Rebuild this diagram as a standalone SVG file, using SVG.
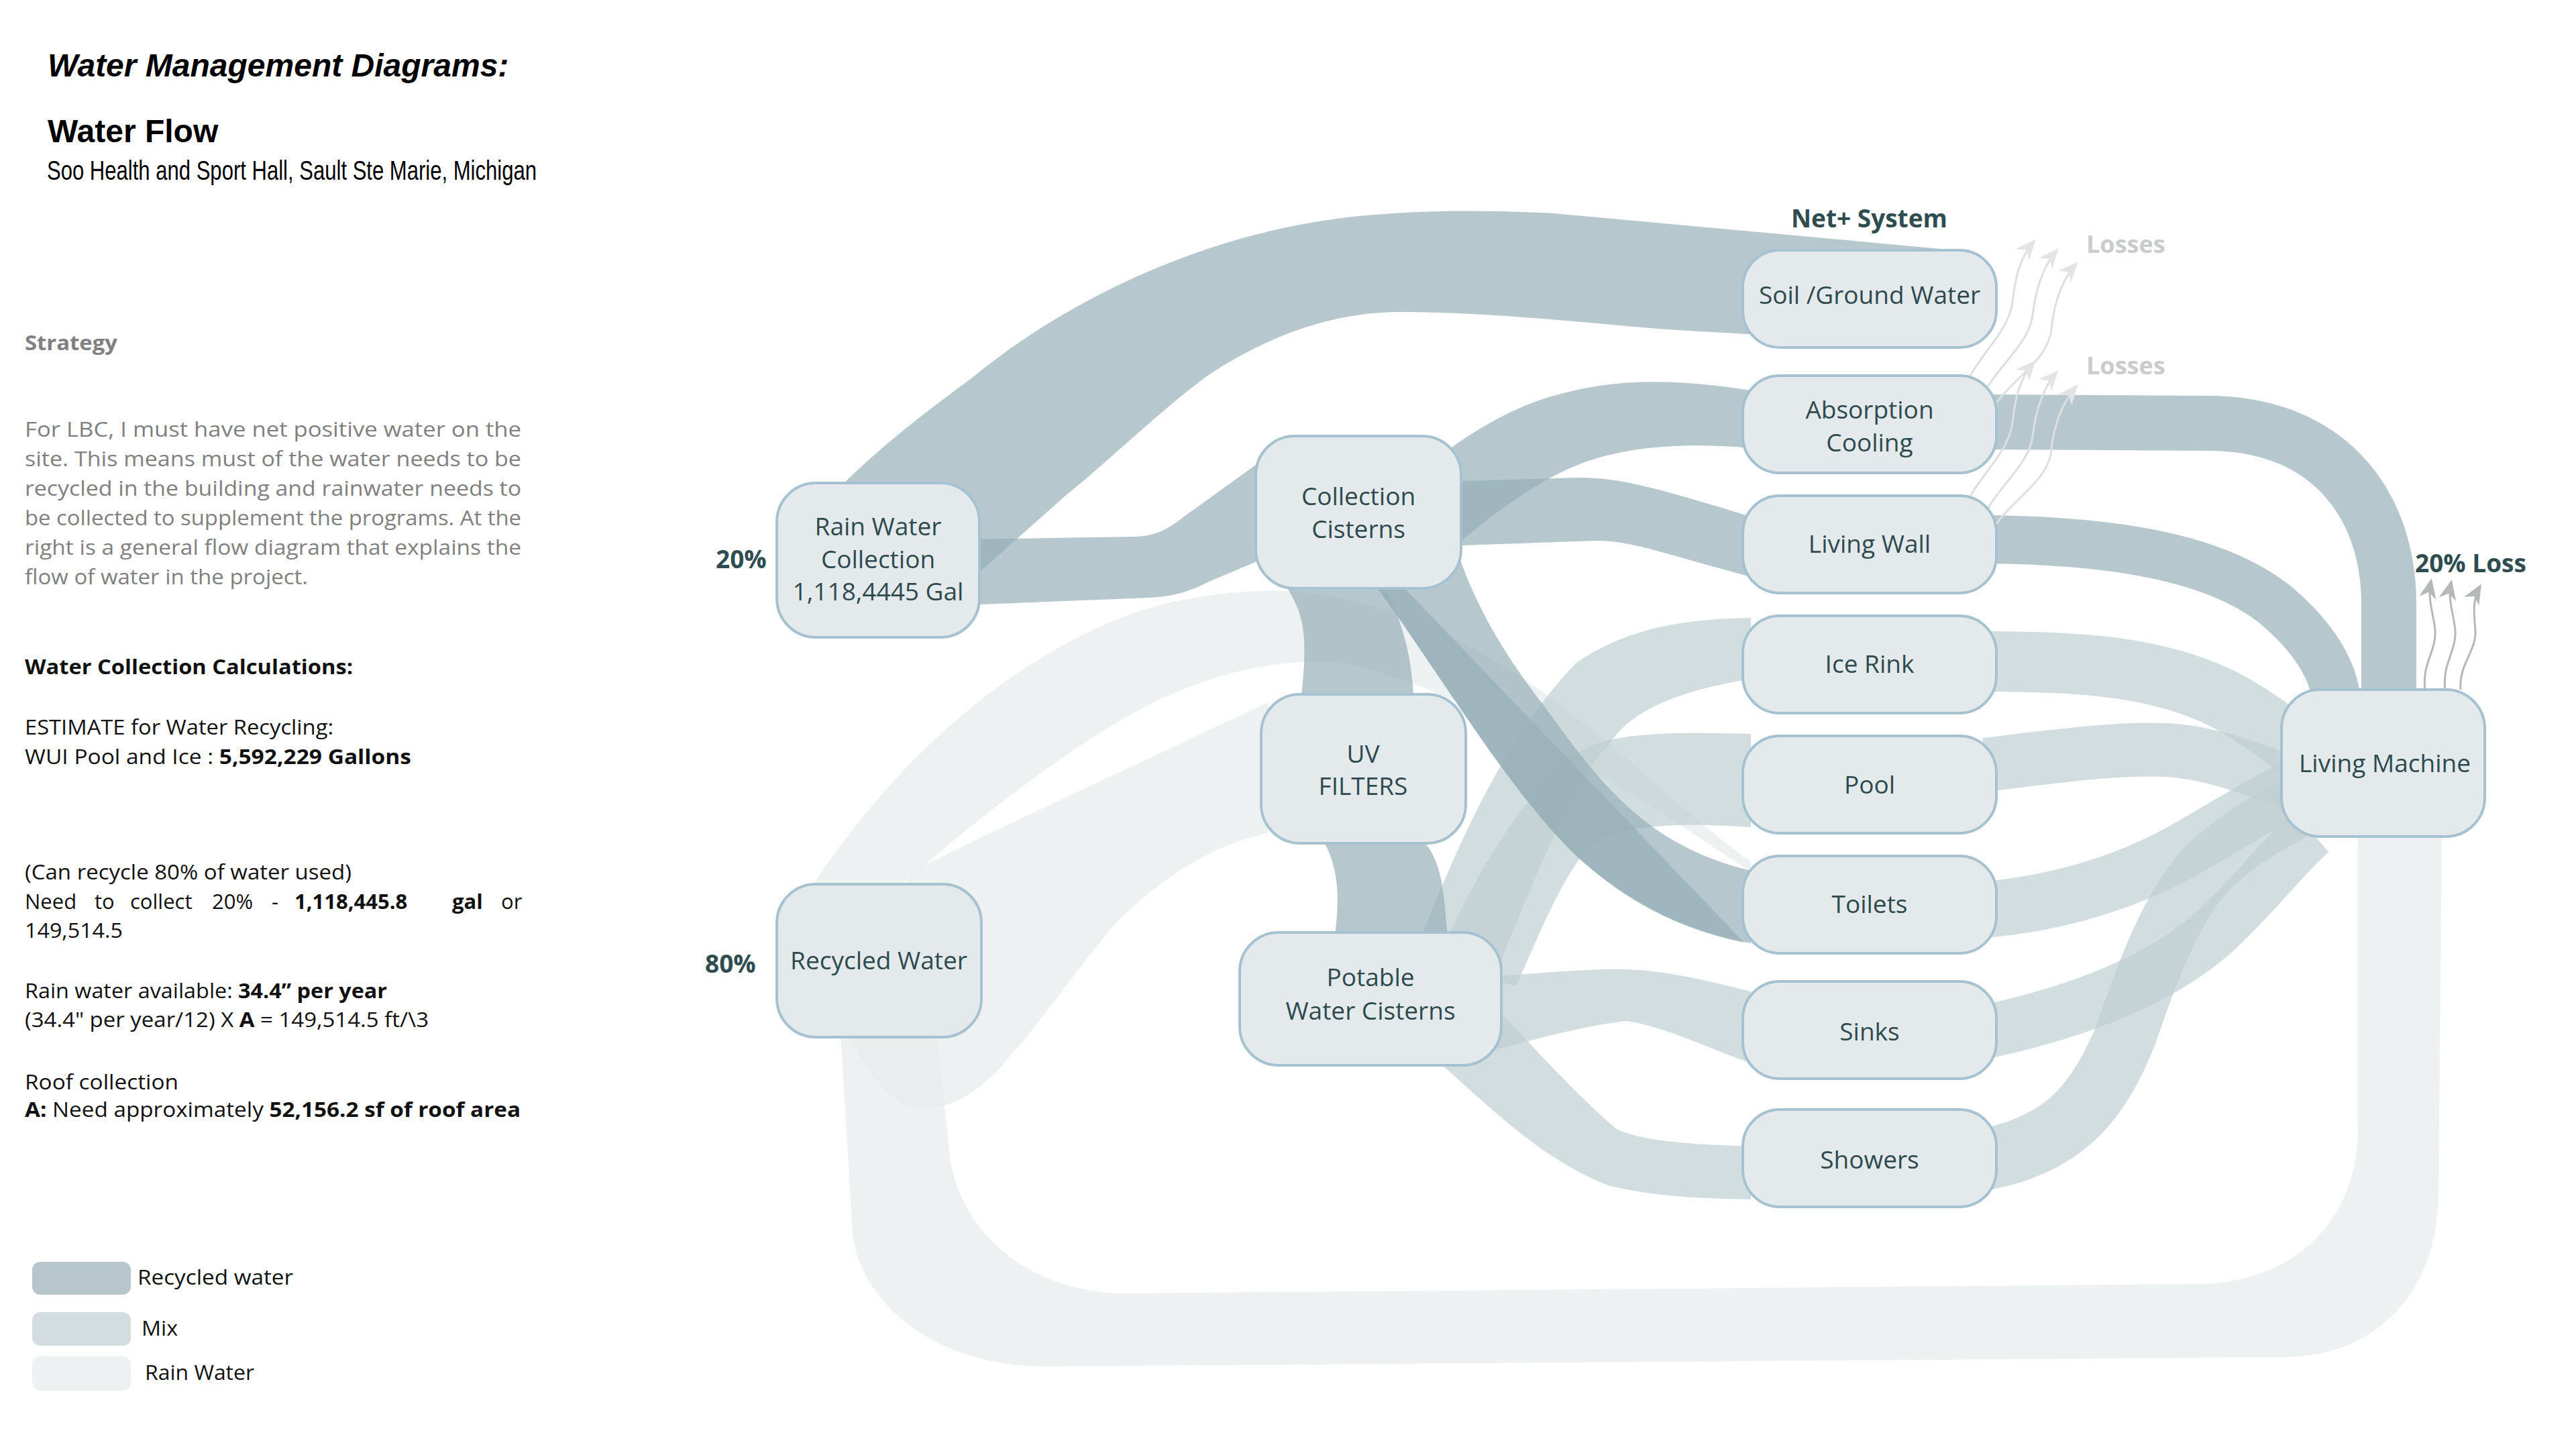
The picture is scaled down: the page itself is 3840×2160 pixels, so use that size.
<svg xmlns="http://www.w3.org/2000/svg" width="3840" height="2160" viewBox="0 0 3840 2160">
<defs>
<style>
.n rect{fill:#e4eaec;stroke:#a6c1cf;stroke-width:4}
.t{font-family:"Open Sans","Liberation Sans",sans-serif;font-size:37px;fill:#2e4a4f;text-anchor:middle}
.lab{font-family:"Open Sans","Liberation Sans",sans-serif;font-size:37px;font-weight:bold;fill:#2f4d50}
.loss{font-family:"Open Sans","Liberation Sans",sans-serif;font-size:36px;font-weight:bold;fill:#c9cbcc}
.rec{fill:#97afb8;fill-opacity:.7}
.mix{fill:#bfced1;fill-opacity:.7}
.rain{fill:#e7ebec;fill-opacity:.7}
.srec{fill:none;stroke:#97afb8;stroke-opacity:.7}
.smix{fill:none;stroke:#bfced1;stroke-opacity:.7}
.lt{font-family:"Open Sans","Liberation Sans",sans-serif;font-size:31px;fill:#111}
.gp{font-family:"Open Sans","Liberation Sans",sans-serif;font-size:31px;fill:#808080}
.aw{fill:none;stroke:#dcdfe0;stroke-width:3}
.ag{fill:none;stroke:#b5b8b9;stroke-width:3}
</style>
<marker id="ahW" viewBox="0 0 30 30" refX="26" refY="15" markerWidth="30" markerHeight="30" markerUnits="userSpaceOnUse" orient="auto">
<path d="M0,2 L30,15 L0,28 L9,15 Z" fill="#e2e4e5"/>
</marker>
<marker id="ahG" viewBox="0 0 30 30" refX="26" refY="15" markerWidth="30" markerHeight="30" markerUnits="userSpaceOnUse" orient="auto">
<path d="M0,2 L30,15 L0,28 L9,15 Z" fill="#b5b8b9"/>
</marker>
</defs>
<rect width="3840" height="2160" fill="#ffffff"/>

<g id="left-text">
<text x="71" y="114" font-family="Liberation Sans, Arial, sans-serif" font-size="48" font-weight="bold" font-style="italic" fill="#000">Water Management Diagrams:</text>
<text x="71" y="212" font-family="Liberation Sans, Arial, sans-serif" font-size="48" font-weight="bold" fill="#000">Water Flow</text>
<text x="70" y="268" font-family="Liberation Sans, Arial, sans-serif" font-size="41" fill="#000" textLength="730" lengthAdjust="spacingAndGlyphs">Soo Health and Sport Hall, Sault Ste Marie, Michigan</text>
<text x="37" y="522" class="gp" font-weight="bold" fill="#8a8a8a" textLength="138" lengthAdjust="spacingAndGlyphs">Strategy</text>
<text x="37" y="651" class="gp" textLength="740" lengthAdjust="spacingAndGlyphs">For LBC, I must have net positive water on the</text>
<text x="37" y="695" class="gp" textLength="740" lengthAdjust="spacingAndGlyphs">site. This means must of the water needs to be</text>
<text x="37" y="739" class="gp" textLength="740" lengthAdjust="spacingAndGlyphs">recycled in the building and rainwater needs to</text>
<text x="37" y="783" class="gp" textLength="740" lengthAdjust="spacingAndGlyphs">be collected to supplement the programs. At the</text>
<text x="37" y="827" class="gp" textLength="740" lengthAdjust="spacingAndGlyphs">right is a general flow diagram that explains the</text>
<text x="37" y="871" class="gp" textLength="422" lengthAdjust="spacingAndGlyphs">flow of water in the project.</text>
<text x="37" y="1005" class="lt" font-weight="bold" textLength="489" lengthAdjust="spacingAndGlyphs">Water Collection Calculations:</text>
<text x="37" y="1095" class="lt" textLength="460" lengthAdjust="spacingAndGlyphs">ESTIMATE for Water Recycling:</text>
<text x="37" y="1139" class="lt" textLength="576" lengthAdjust="spacingAndGlyphs">WUI Pool and Ice : <tspan font-weight="bold">5,592,229 Gallons</tspan></text>
<text x="37" y="1311" class="lt" textLength="487" lengthAdjust="spacingAndGlyphs">(Can recycle 80% of water used)</text>
<text y="1355" class="lt"><tspan x="37">Need</tspan><tspan x="141">to</tspan><tspan x="194">collect</tspan><tspan x="316">20%</tspan><tspan x="405">-</tspan><tspan x="439" font-weight="bold">1,118,445.8</tspan><tspan x="674" font-weight="bold">gal</tspan><tspan x="747">or</tspan></text>
<text x="37" y="1398" class="lt" textLength="146" lengthAdjust="spacingAndGlyphs">149,514.5</text>
<text x="37" y="1488" class="lt" textLength="540" lengthAdjust="spacingAndGlyphs">Rain water available: <tspan font-weight="bold">34.4” per year</tspan></text>
<text x="37" y="1531" class="lt" textLength="602" lengthAdjust="spacingAndGlyphs">(34.4" per year/12) X <tspan font-weight="bold">A</tspan> = 149,514.5 ft/\3</text>
<text x="37" y="1624" class="lt" textLength="229" lengthAdjust="spacingAndGlyphs">Roof collection</text>
<text x="37" y="1665" class="lt" textLength="739" lengthAdjust="spacingAndGlyphs"><tspan font-weight="bold">A:</tspan> Need approximately <tspan font-weight="bold">52,156.2 sf of roof area</tspan></text>
</g>

<g id="legend">
<rect x="48" y="1881" width="147" height="49" rx="12" fill="#b6c6cb"/>
<rect x="48" y="1956" width="147" height="50" rx="12" fill="#d3dcdf"/>
<rect x="48" y="2022" width="147" height="51" rx="12" fill="#eef1f2"/>
<text x="205" y="1915" class="lt" textLength="232" lengthAdjust="spacingAndGlyphs">Recycled water</text>
<text x="211" y="1991" class="lt" textLength="54" lengthAdjust="spacingAndGlyphs">Mix</text>
<text x="216" y="2057" class="lt" textLength="163" lengthAdjust="spacingAndGlyphs">Rain Water</text>
</g>

<g id="connectors">
<path class="rain" d="M3515,1240 L3640,1240 L3635,1784 C3632,1930 3540,2023 3403,2023 L1560,2037 C1380,2037 1280,1930 1271,1839 L1253,1541 L1397,1541 L1415,1716 C1425,1830 1530,1928 1677,1928 L3273,1914 C3420,1914 3515,1820 3515,1681 Z"/>
<path class="rain" d="M1211,1320 C1330,1140 1500,980 1700,910 C1800,880 1900,876 1960,885 C2080,900 2200,960 2316,1043 C2420,1120 2520,1220 2610,1285 L2610,1300 C2520,1240 2420,1170 2333,1132 C2240,1080 2160,1030 2021,992 C1930,975 1820,1000 1730,1042 C1620,1095 1480,1200 1343,1320 Z"/>
<path class="rain" d="M1363,1297 C1540,1210 1730,1123 1890,1047 L1890,1242 C1795,1262 1720,1320 1666,1373 C1600,1450 1540,1540 1511,1567 C1480,1610 1430,1653 1376,1653 C1330,1650 1300,1610 1266,1547 L1300,1400 Z"/>
<path class="mix" d="M2120,1392 C2170,1270 2240,1100 2350,988 C2420,940 2500,923 2610,921 L2610,1012 C2500,1030 2430,1060 2400,1108 C2340,1170 2280,1330 2230,1450 Z"/>
<path class="mix" d="M2140,1440 C2180,1340 2260,1190 2350,1122 C2400,1095 2460,1090 2610,1094 L2610,1233 C2500,1226 2430,1230 2383,1252 C2340,1280 2300,1380 2260,1470 Z"/>
<path class="mix" d="M2200,1458 C2300,1450 2380,1443 2425,1445 C2480,1447 2540,1460 2610,1478 L2610,1585 C2540,1560 2480,1530 2425,1522 C2350,1530 2270,1555 2190,1575 Z"/>
<path class="mix" d="M2205,1478 C2260,1530 2340,1625 2411,1684 C2450,1700 2500,1705 2610,1709 L2610,1788 C2500,1786 2456,1780 2400,1768 C2300,1730 2220,1650 2149,1587 Z"/>
<path class="smix" stroke-width="90" d="M2960,986 C3100,986 3220,993 3320,1045 C3360,1067 3390,1090 3425,1115"/>
<path class="smix" stroke-width="80" d="M2960,1140 C3060,1128 3150,1115 3230,1118 C3300,1122 3360,1148 3425,1170"/>
<path class="smix" stroke-width="84" d="M2960,1356 C3080,1345 3180,1310 3260,1265 C3320,1230 3370,1200 3425,1170"/>
<path class="smix" stroke-width="80" d="M2960,1538 C3100,1508 3220,1460 3300,1390 C3360,1335 3400,1280 3445,1240"/>
<path class="smix" stroke-width="92" d="M2960,1728 C3080,1705 3130,1640 3170,1540 C3210,1420 3250,1330 3300,1285 C3340,1250 3380,1225 3430,1200"/>
<path class="rec" d="M1256,722 C1330,650 1400,600 1453,560 C1600,440 1800,350 2000,325 C2100,313 2200,312 2316,318 L2915,373 L2915,500 L2604,498 L2500,492 C2400,486 2250,466 2091,465 C1990,464 1890,500 1800,560 C1720,620 1650,690 1587,740 L1460,853 L1300,853 Z"/>
<path class="rec" d="M1440,804 L1688,800 C1720,800 1740,790 1765,770 L1890,680 L1890,830 L1800,868 C1770,884 1740,890 1713,891 L1440,902 Z"/>
<path class="rec" d="M2160,670 C2200,640 2260,605 2316,590 C2400,566 2480,562 2610,582 L2610,668 C2520,660 2420,662 2340,698 C2280,725 2220,770 2150,830 Z"/>
<path class="rec" d="M2150,718 L2350,712 C2420,712 2470,728 2610,770 L2610,860 L2516,834 C2460,818 2420,806 2380,806 L2150,814 Z"/>
<path class="rec" d="M1914,870 C1950,920 1944,960 1944,992 L1940,1040 L2107,1040 C2105,980 2090,920 2060,870 Z"/>
<path class="rec" d="M1971,1250 C2000,1300 1995,1350 1990,1395 L2158,1395 C2152,1330 2150,1280 2118,1250 Z"/>
<path class="rec" d="M2150,720 C2165,850 2230,960 2300,1050 C2380,1160 2450,1260 2610,1298 L2610,1406 C2500,1385 2420,1340 2350,1276 C2250,1180 2150,1010 2053,876 Z"/>
<path class="rec" fill-opacity=".45" d="M2094,877 L2600,1405 C2500,1385 2420,1340 2350,1276 C2250,1180 2150,1010 2053,876 Z"/>
<path class="srec" stroke-width="82" d="M2960,629 L3300,631 C3480,636 3561,760 3561,900 L3561,1050"/>
<path class="srec" stroke-width="72" d="M2960,804 C3150,806 3300,830 3390,900 C3450,950 3480,1000 3484,1050"/>
<path class="aw" marker-end="url(#ahW)" d="M2937,560 C2960,520 2995,490 3000,450 C3004,415 3010,385 3032,360"/>
<path class="aw" marker-end="url(#ahW)" d="M2962,578 C2985,540 3025,510 3030,470 C3034,435 3045,398 3066,373"/>
<path class="aw" marker-end="url(#ahW)" d="M2975,602 C3000,565 3055,535 3058,490 C3062,450 3075,415 3095,393"/>
<path class="aw" marker-end="url(#ahW)" d="M2937,740 C2960,700 2995,670 3000,630 C3004,595 3010,565 3032,540"/>
<path class="aw" marker-end="url(#ahW)" d="M2962,760 C2985,720 3025,690 3030,650 C3034,615 3045,578 3066,555"/>
<path class="aw" marker-end="url(#ahW)" d="M2975,782 C3000,745 3055,715 3058,670 C3062,630 3075,600 3095,576"/>
<path class="ag" marker-end="url(#ahG)" d="M3615,1028 C3610,990 3632,970 3630,940 C3628,915 3618,895 3624,866"/>
<path class="ag" marker-end="url(#ahG)" d="M3645,1028 C3640,990 3662,970 3660,940 C3658,915 3648,895 3654,868"/>
<path class="ag" marker-end="url(#ahG)" d="M3668,1028 C3665,990 3692,970 3690,940 C3688,915 3685,895 3697,874"/>
</g>

<g id="node-rain" class="n"><rect x="1158" y="720" width="302" height="230" rx="58"/>
<text class="t" x="1309" y="798">Rain Water</text><text class="t" x="1309" y="847">Collection</text><text class="t" x="1309" y="895">1,118,4445 Gal</text></g>
<g id="node-collection" class="n"><rect x="1872" y="650" width="306" height="227" rx="58"/>
<text class="t" x="2025" y="753">Collection</text><text class="t" x="2025" y="802">Cisterns</text></g>
<g id="node-uv" class="n"><rect x="1880" y="1035" width="305" height="222" rx="58"/>
<text class="t" x="2032" y="1137">UV</text><text class="t" x="2032" y="1185">FILTERS</text></g>
<g id="node-potable" class="n"><rect x="1848" y="1390" width="390" height="198" rx="58"/>
<text class="t" x="2043" y="1470">Potable</text><text class="t" x="2043" y="1520">Water Cisterns</text></g>
<g id="node-recycled" class="n"><rect x="1158" y="1318" width="305" height="228" rx="58"/>
<text class="t" x="1310" y="1445">Recycled Water</text></g>
<g id="node-soil" class="n"><rect x="2598" y="373" width="378" height="145" rx="55"/>
<text class="t" x="2787" y="453">Soil /Ground Water</text></g>
<g id="node-absorption" class="n"><rect x="2598" y="560" width="378" height="145" rx="55"/>
<text class="t" x="2787" y="624">Absorption</text><text class="t" x="2787" y="673">Cooling</text></g>
<g id="node-livingwall" class="n"><rect x="2598" y="739" width="378" height="145" rx="55"/>
<text class="t" x="2787" y="824">Living Wall</text></g>
<g id="node-ice" class="n"><rect x="2598" y="918" width="378" height="145" rx="55"/>
<text class="t" x="2787" y="1003">Ice Rink</text></g>
<g id="node-pool" class="n"><rect x="2598" y="1097" width="378" height="145" rx="55"/>
<text class="t" x="2787" y="1183">Pool</text></g>
<g id="node-toilets" class="n"><rect x="2598" y="1276" width="378" height="145" rx="55"/>
<text class="t" x="2787" y="1361">Toilets</text></g>
<g id="node-sinks" class="n"><rect x="2598" y="1463" width="378" height="145" rx="55"/>
<text class="t" x="2787" y="1551">Sinks</text></g>
<g id="node-showers" class="n"><rect x="2598" y="1654" width="378" height="145" rx="55"/>
<text class="t" x="2787" y="1742">Showers</text></g>
<g id="node-livingmachine" class="n"><rect x="3401" y="1028" width="303" height="219" rx="58"/>
<text class="t" x="3555" y="1151">Living Machine</text></g>

<g id="labels">
<text class="lab" x="1067" y="847">20%</text>
<text class="lab" x="1051" y="1450">80%</text>
<text class="lab" x="2670" y="339">Net+ System</text>
<text class="lab" x="3600" y="853">20% Loss</text>
<text class="loss" x="3110" y="377">Losses</text>
<text class="loss" x="3110" y="558">Losses</text>
</g>
</svg>
